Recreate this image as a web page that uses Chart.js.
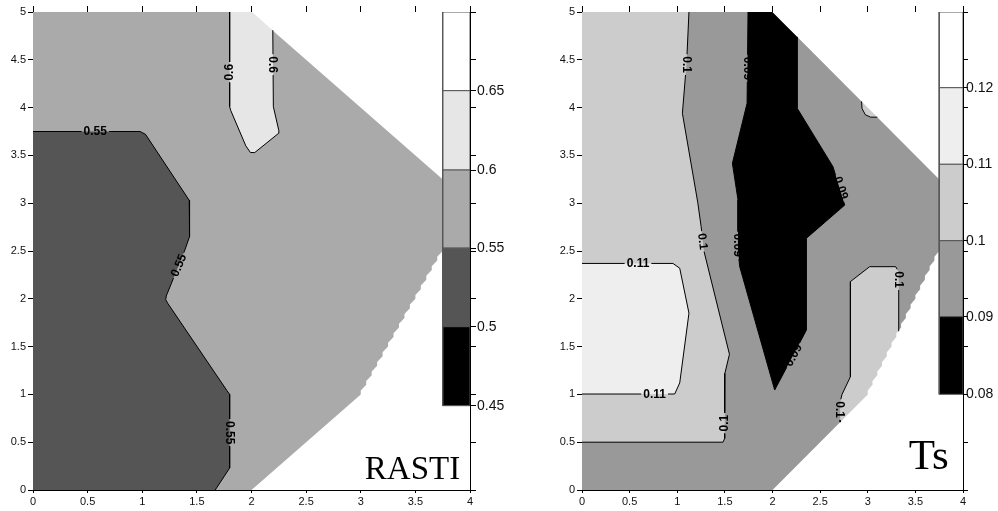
<!DOCTYPE html>
<html>
<head>
<meta charset="UTF-8">
<title>RASTI / Ts</title>
<script src="https://cdn.jsdelivr.net/npm/chart.js"></script>
<style>
  body { margin: 0; background: #fff; width: 998px; height: 511px; overflow: hidden; position: relative; }
  canvas { position: absolute; top: 0; }
  #rasti { left: 0; }
  #ts { left: 500px; }
</style>
</head>
<body>
<canvas id="rasti" width="560" height="511"></canvas>
<canvas id="ts" width="498" height="511"></canvas>
<script>
// axis ticks, same for both plots
const xTicks = [0, 0.5, 1, 1.5, 2, 2.5, 3, 3.5, 4];
const yTicks = [0, 0.5, 1, 1.5, 2, 2.5, 3, 3.5, 4, 4.5, 5];

// area outside the measured zone (white)
const plotFrame = [[0, 0], [4, 0], [4, 5], [0, 5]];
const maskTop = [[2, 5], [4, 3], [4, 5]];
const maskBottom = [[2, 0], [3, 1], [3, 1.04], [3.05, 1.1], [3.05, 1.14], [3.1, 1.2], [3.1, 1.24], [3.15, 1.3],
  [3.15, 1.34], [3.2, 1.4], [3.2, 1.44], [3.25, 1.5], [3.25, 1.54], [3.3, 1.6], [3.3, 1.64], [3.35, 1.7],
  [3.35, 1.74], [3.4, 1.8], [3.4, 1.84], [3.45, 1.9], [3.45, 1.94], [3.5, 2.0], [3.5, 2.04], [3.55, 2.1],
  [3.55, 2.14], [3.6, 2.2], [3.6, 2.24], [3.65, 2.3], [3.65, 2.34], [3.7, 2.4], [3.7, 2.44], [3.75, 2.5],
  [4, 3], [4, 0]];

// ---- RASTI ----
const rastiLevels = ['0.45', '0.5', '0.55', '0.6', '0.65'];
const rastiBarEdges = [0.882, 1.708, 2.53, 3.347, 4.177, 5];
const rastiBarColors = ['#000000', '#555555', '#aaaaaa', '#e6e6e6', '#ffffff'];
const rastiLine055 = [[0, 3.75], [0.98, 3.75], [1.03, 3.72], [1.43, 3.03], [1.433, 2.65], [1.39, 2.51],
  [1.22, 2.03], [1.215, 1.99], [1.235, 1.95], [1.775, 1.04], [1.8, 1.0], [1.8, 0.23], [1.668, 0]];
const rastiLine060 = [[1.8, 5], [1.8, 4.01], [1.81, 3.97], [1.948, 3.6], [1.99, 3.53], [2.03, 3.53],
  [2.247, 3.73], [2.25, 3.76], [2.2, 4.01], [2.195, 4.81]];
const rastiLabels = [['0.55', 0.57, 3.75, 0], ['0.55', 1.333, 2.35, -67], ['0.55', 1.8, 0.6, 90],
  ['0.6', 1.8, 4.37, -90], ['0.6', 2.197, 4.45, 90]];

// ---- Ts ----
const tsLevels = ['0.08', '0.09', '0.1', '0.11', '0.12'];
const tsBarEdges = [1.001, 1.813, 2.608, 3.407, 4.208, 5];
const tsBarColors = ['#000000', '#999999', '#cccccc', '#eeeeee', '#ffffff'];
const tsLine010a = [[1.123, 5], [1.1, 4.5], [1.054, 3.94], [1.215, 3.01], [1.25, 2.76], [1.28, 2.5],
  [1.548, 1.42], [1.5, 1.22], [1.498, 0.54], [1.48, 0.5], [0, 0.5]];
const tsLine011 = [[0, 2.37], [0.955, 2.37], [1.026, 2.32], [1.123, 1.85], [1.026, 1.12], [0.973, 1.004], [0, 1.004]];
const tsLine009 = [[1.743, 5], [1.733, 4.045], [1.579, 3.417], [1.638, 3.033], [1.638, 2.51], [1.656, 2.336],
  [2.023, 1.046], [2.32, 1.604], [2.356, 1.674], [2.356, 2.633], [2.758, 2.98], [2.635, 3.382],
  [2.261, 3.99], [2.261, 4.74]];
const tsLine010b = [[3.325, 1.66], [3.325, 2.28], [3.293, 2.336], [3.02, 2.336], [2.818, 2.18],
  [2.818, 1.185], [2.73, 1.0], [2.71, 0.92], [2.71, 0.71]];
const tsLine010c = [[2.935, 4.065], [2.94, 3.99], [2.975, 3.925], [3.03, 3.9], [3.1, 3.9]];
const tsLabels = [['0.1', 1.096, 4.45, 90], ['0.09', 1.737, 4.41, 90], ['0.1', 1.268, 2.6, 83],
  ['0.09', 1.638, 2.56, 90], ['0.09', 2.72, 3.16, 72], ['0.09', 2.22, 1.41, -62],
  ['0.11', 0.588, 2.37, 0], ['0.11', 0.763, 1.004, 0], ['0.1', 1.498, 0.7, -90],
  ['0.1', 3.325, 2.2, 90], ['0.1', 2.71, 0.84, 90]];

Chart.defaults.font.family = '"Liberation Sans", Arial, sans-serif';
Chart.defaults.color = '#111';

function pts(list) {
  return list.map(p => ({x: p[0], y: p[1]}));
}

function area(list, color, order) {
  const d = pts(list);
  d.push({x: list[0][0], y: list[0][1]});
  return {data: d, showLine: true, fill: 'shape', backgroundColor: color, borderWidth: 0, pointRadius: 0, order: order};
}

function contour(list) {
  return {data: pts(list), showLine: true, fill: false, borderColor: '#000', borderWidth: 1,
    pointRadius: 0, order: 40, contour: true};
}

function colorbar(edges, colors) {
  return colors.map((c, i) => {
    const ds = area([[3.75, edges[i]], [4, edges[i]], [4, edges[i + 1]], [3.75, edges[i + 1]]], c, 30);
    ds.borderWidth = 1;
    ds.borderColor = '#555';
    return ds;
  });
}

const labelFont = 'bold 12px "Liberation Sans", Arial, sans-serif';

// contour labels, gaps in the lines under them, and the plot title
const contourLabels = {
  id: 'contourLabels',
  beforeDatasetDraw(chart, args, opts) {
    if (!chart.data.datasets[args.index].contour) return;
    const ctx = chart.ctx, a = chart.chartArea;
    const sx = chart.scales.x, sy = chart.scales.y;
    ctx.save();
    ctx.font = labelFont;
    ctx.beginPath();
    ctx.rect(a.left - 2, a.top - 2, a.width + 4, a.height + 4);
    opts.labels.forEach(([txt, x, y, ang]) => {
      const cx = sx.getPixelForValue(x), cy = sy.getPixelForValue(y);
      const w = ctx.measureText(txt).width / 2 + 2, h = 5;
      const c = Math.cos(ang * Math.PI / 180), s = Math.sin(ang * Math.PI / 180);
      const corner = (dx, dy) => [cx + dx * c - dy * s, cy + dx * s + dy * c];
      ctx.moveTo(...corner(-w, -h));
      ctx.lineTo(...corner(w, -h));
      ctx.lineTo(...corner(w, h));
      ctx.lineTo(...corner(-w, h));
      ctx.closePath();
    });
    ctx.clip('evenodd');
  },
  afterDatasetDraw(chart, args) {
    if (chart.data.datasets[args.index].contour) chart.ctx.restore();
  },
  afterDatasetsDraw(chart, args, opts) {
    const ctx = chart.ctx;
    const sx = chart.scales.x, sy = chart.scales.y;
    ctx.save();
    ctx.font = labelFont;
    ctx.fillStyle = '#000';
    ctx.textAlign = 'center';
    ctx.textBaseline = 'middle';
    opts.labels.forEach(([txt, x, y, ang]) => {
      ctx.save();
      ctx.translate(sx.getPixelForValue(x), sy.getPixelForValue(y));
      ctx.rotate(ang * Math.PI / 180);
      ctx.fillText(txt, 0, 0.5);
      ctx.restore();
    });
    ctx.font = opts.titleSize + 'px "Liberation Serif", "Times New Roman", serif';
    ctx.textAlign = 'right';
    ctx.textBaseline = 'alphabetic';
    ctx.fillText(opts.title, sx.getPixelForValue(opts.titleAt[0]), sy.getPixelForValue(opts.titleAt[1]));
    ctx.restore();
  }
};

function makeChart(id, c) {
  const datasets = [area(plotFrame, c.base, 100)]
    .concat(c.regions.map(r => area(r[0], r[1], r[2])))
    .concat([area(maskTop, '#fff', 50), area(maskBottom, '#fff', 50)])
    .concat(c.lines.map(contour))
    .concat(colorbar(c.edges, c.barColors));
  const levelY = c.edges.slice(0, c.levels.length);
  const tickSet = list => s => { s.ticks = list.map(v => ({value: v})); };
  new Chart(document.getElementById(id), {
    type: 'scatter',
    data: {datasets: datasets},
    options: {
      responsive: false,
      animation: false,
      events: [],
      layout: {padding: 0},
      plugins: {
        legend: {display: false},
        tooltip: {enabled: false},
        contourLabels: {labels: c.labels, title: c.title, titleSize: c.titleSize, titleAt: c.titleAt}
      },
      scales: {
        x: {
          type: 'linear', position: 'bottom', min: 0, max: 4,
          afterBuildTicks: tickSet(xTicks),
          ticks: {autoSkip: false, maxRotation: 0, padding: 2, font: {size: 11}, callback: v => String(v)},
          grid: {drawOnChartArea: false, tickLength: 3, color: '#000'},
          border: {color: '#000'},
          afterFit: s => { s.height = 21; }
        },
        x2: {
          type: 'linear', position: 'top', min: 0, max: 4,
          afterBuildTicks: tickSet(xTicks),
          ticks: {display: false},
          grid: {drawOnChartArea: false, tickLength: 6, color: '#000'},
          border: {color: '#000'},
          afterFit: s => { s.height = 12; }
        },
        y: {
          type: 'linear', position: 'left', min: 0, max: 5,
          afterBuildTicks: tickSet(yTicks),
          ticks: {autoSkip: false, padding: 2, font: {size: 11}, callback: v => String(v)},
          grid: {drawOnChartArea: false, tickLength: 5, color: '#000'},
          border: {color: '#000'},
          afterFit: s => { s.width = c.leftWidth; }
        },
        y2: {
          type: 'linear', position: 'right', min: 0, max: 5,
          afterBuildTicks: tickSet(yTicks.concat(levelY).sort((a, b) => a - b)),
          ticks: {
            autoSkip: false, padding: c.barPad, font: {size: 14},
            callback: v => { const i = levelY.indexOf(v); return i >= 0 ? c.levels[i] : ''; }
          },
          grid: {drawOnChartArea: false, tickLength: c.rightTick, color: '#000'},
          border: {color: '#000'},
          afterFit: s => { s.width = c.rightWidth; }
        }
      }
    },
    plugins: [contourLabels]
  });
}

makeChart('rasti', {
  base: '#aaaaaa',
  regions: [
    [rastiLine055.concat([[0, 0]]), '#555555', 90],
    [rastiLine060.concat([[2, 5]]), '#e6e6e6', 90]
  ],
  lines: [rastiLine055, rastiLine060],
  labels: rastiLabels,
  levels: rastiLevels, edges: rastiBarEdges, barColors: rastiBarColors,
  title: 'RASTI', titleSize: 33, titleAt: [3.91, 0.115],
  leftWidth: 33, rightWidth: 90, rightTick: 6, barPad: 1
});

makeChart('ts', {
  base: '#999999',
  regions: [
    [tsLine010a.concat([[0, 5]]), '#cccccc', 90],
    [tsLine011, '#eeeeee', 85],
    [tsLine009.concat([[2, 5]]), '#000000', 90],
    [tsLine010b.concat([[3.1, 0.8], [3.6, 1.6], [3.4, 1.6]]), '#cccccc', 90],
    [tsLine010c.concat([[3.2, 4.3]]), '#cccccc', 90]
  ],
  lines: [tsLine010a, tsLine011, tsLine009, tsLine010b, tsLine010c],
  labels: tsLabels,
  levels: tsLevels, edges: tsBarEdges, barColors: tsBarColors,
  title: 'Ts', titleSize: 43, titleAt: [3.85, 0.22],
  leftWidth: 82, rightWidth: 35, rightTick: 5, barPad: -2
});
</script>
</body>
</html>
